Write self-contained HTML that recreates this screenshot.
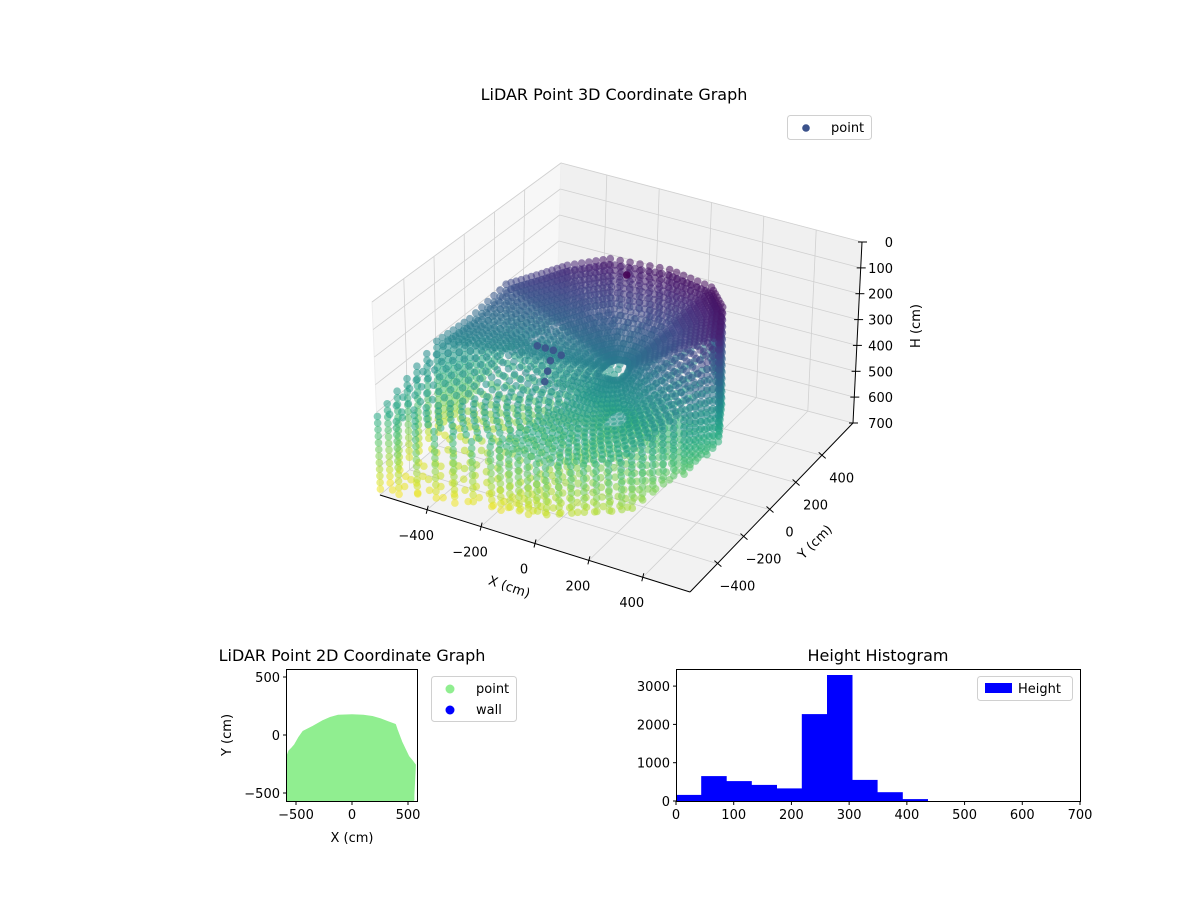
<!DOCTYPE html>
<html><head><meta charset="utf-8"><style>
body{margin:0;background:#fff}
svg text{font-family:"DejaVu Sans","Liberation Sans",sans-serif;fill:#000}
</style></head><body>
<svg id="fig" width="1200" height="900" viewBox="0 0 1200 900" xmlns="http://www.w3.org/2000/svg">
<rect width="1200" height="900" fill="#fff"/>
<g id="g3d"></g>
<g id="g2d"></g>
<g id="ghist"></g>
</svg>
<script>
// ===== 3D data =====
const xTicks3 = [-400, -200, 0, 200, 400];
const yTicks3 = [-400, -200, 0, 200, 400];
const hTicks3 = [0, 100, 200, 300, 400, 500, 600, 700];
const rimX = [-578, -210, 0, 230, 370, 430, 370, 280, 101, -122, -256, -345, -435, -509, -578];
const rimY = [-600, -510, -520, -420, -235, -100, 40, 130, 170, 170, 121, 72, 28, -86, -187];
const rimHTop = [420, 460, 470, 430, 300, 60, 30, 20, 20, 40, 80, 120, 160, 260, 320];
const rimHBot = [700, 690, 650, 620, 520, 460, 400, 300, 220, 220, 280, 350, 420, 560, 660];
const centerH = 300;
const ringFractions = [0.1,0.15,0.2,0.25,0.3,0.35,0.4,0.45,0.5,0.55,0.6,0.65,0.7,0.75,0.8,0.85,0.9,0.95];
const markX = [-330, -300, -270, -240, -270, -270, -270, 0];
const markY = [50, 50, 50, 50, 30, 10, -10, 60];
const markH = [370, 370, 370, 380, 400, 430, 460, 20];
// ===== 2D data =====
const outlineX = [-578, -578, -560, -530, -509, -470, -435, -345, -256, -190, -122, 0, 101, 180, 250, 320, 384, 399, 440, 503, 540, 562, 548, 548];
const outlineY = [-560, -187, -140, -110, -86, -20, 28, 72, 121, 148, 166, 170, 166, 155, 136, 110, 88, 45, -60, -187, -230, -259, -517, -560];
const ticks2dX = [-500, 0, 500];
const ticks2dY = [-500, 0, 500];
// ===== Histogram data =====
const binEdges = [0, 43.6, 87.2, 130.8, 174.4, 218, 261.6, 305.2, 348.8, 392.4, 436];
const binCounts = [160, 650, 520, 420, 330, 2270, 3290, 550, 230, 50];
const histXTicks = [0, 100, 200, 300, 400, 500, 600, 700];
const histYTicks = [0, 1000, 2000, 3000];

const NS = "http://www.w3.org/2000/svg";
function mk(parent, tag, attrs, text){
  const e = document.createElementNS(NS, tag);
  for (const k in attrs) e.setAttribute(k, attrs[k]);
  if (text !== undefined) e.textContent = text;
  parent.appendChild(e);
  return e;
}

// ---------- 3D ----------
const g3 = document.getElementById('g3d');
const XR = [-575, 575], YR = [-610, 640], HMAX = 700;
const A=[380,495], B=[690,592], C=[853,423], D=[556,345];
const At=[372,302], Bt=[686,392], Ct=[862,242], Dt=[561,163];
function bil(p00,p10,p11,p01,u,v){
  return [ (1-u)*(1-v)*p00[0]+u*(1-v)*p10[0]+u*v*p11[0]+(1-u)*v*p01[0],
           (1-u)*(1-v)*p00[1]+u*(1-v)*p10[1]+u*v*p11[1]+(1-u)*v*p01[1] ];
}
function proj(x,y,h){
  const u=(x-XR[0])/(XR[1]-XR[0]), v=(y-YR[0])/(YR[1]-YR[0]), s=h/HMAX;
  const f=bil(A,B,C,D,u,v), t=bil(At,Bt,Ct,Dt,u,v);
  return [t[0]+(f[0]-t[0])*s, t[1]+(f[1]-t[1])*s];
}
function poly(pts){ return pts.map(p=>p[0].toFixed(1)+','+p[1].toFixed(1)).join(' '); }

let e;
e = mk(g3,'polygon',{points:poly([proj(XR[0],YR[0],700),proj(XR[1],YR[0],700),proj(XR[1],YR[1],700),proj(XR[0],YR[1],700)]),fill:'#f2f2f2',stroke:'#f2f2f2'});
 
e = mk(g3,'polygon',{points:poly([proj(XR[0],YR[0],0),proj(XR[0],YR[1],0),proj(XR[0],YR[1],700),proj(XR[0],YR[0],700)]),fill:'#f7f7f7',stroke:'#eeeeee'});
 
e = mk(g3,'polygon',{points:poly([proj(XR[0],YR[1],0),proj(XR[1],YR[1],0),proj(XR[1],YR[1],700),proj(XR[0],YR[1],700)]),fill:'#f0f0f0',stroke:'#eeeeee'});
 

const grid = mk(g3,'g',{stroke:'#d0d0d0','stroke-width':0.8,fill:'none'});
 
function ln(g,p,q){ return mk(g,'line',{x1:p[0].toFixed(1),y1:p[1].toFixed(1),x2:q[0].toFixed(1),y2:q[1].toFixed(1)}); }
xTicks3.forEach(x=>{ ln(grid,proj(x,YR[0],700),proj(x,YR[1],700)); ln(grid,proj(x,YR[1],700),proj(x,YR[1],0)); });
yTicks3.forEach(y=>{ ln(grid,proj(XR[0],y,700),proj(XR[1],y,700)); ln(grid,proj(XR[0],y,700),proj(XR[0],y,0)); });
hTicks3.forEach(h=>{ ln(grid,proj(XR[0],YR[0],h),proj(XR[0],YR[1],h)); ln(grid,proj(XR[0],YR[1],h),proj(XR[1],YR[1],h)); });

const ax = mk(g3,'g',{stroke:'#000','stroke-width':1});
 
ln(ax,proj(XR[0],YR[0],700),proj(XR[1],YR[0],700));
ln(ax,proj(XR[1],YR[0],700),proj(XR[1],YR[1],700));
ln(ax,proj(XR[1],YR[1],700),proj(XR[1],YR[1],0));
xTicks3.forEach(x=>{
  const p=proj(x,YR[0],700); ln(ax,[p[0]+1,p[1]-4],[p[0]-1,p[1]+4]);
  const t=mk(g3,'text',{x:(p[0]-11).toFixed(1),y:(p[1]+30).toFixed(1),'font-size':13,'text-anchor':'middle'}, x<0?'\u2212'+(-x):''+x);
   
});
yTicks3.forEach(y=>{
  const p=proj(XR[1],y,700); ln(ax,[p[0]-3,p[1]-3],[p[0]+4,p[1]+3]);
  const t=mk(g3,'text',{x:(p[0]+20).toFixed(1),y:(p[1]+27).toFixed(1),'font-size':13,'text-anchor':'middle'}, y<0?'\u2212'+(-y):''+y);
   
});
hTicks3.forEach(h=>{
  const p=proj(XR[1],YR[1],h); ln(ax,[p[0]-4,p[1]],[p[0]+5,p[1]]);
  const t=mk(g3,'text',{x:893,y:(p[1]+5).toFixed(1),'font-size':13,'text-anchor':'end'}, ''+h);
   
});

const vir=['#440154','#482475','#414487','#355f8d','#2a788e','#21918c','#22a884','#44bf70','#7ad151','#bddf26','#fde725'];
function hex(c){return [parseInt(c.slice(1,3),16),parseInt(c.slice(3,5),16),parseInt(c.slice(5,7),16)];}
function viridis(t){
  t=Math.max(0,Math.min(1,t)); const f=t*10, i=Math.min(9,Math.floor(f)), r=f-i;
  const a=hex(vir[i]), b=hex(vir[i+1]);
  return 'rgb('+a.map((v,k)=>Math.round(v+(b[k]-v)*r)).join(',')+')';
}

const pts=[];
const n=rimX.length;
const CX=50, CY=-80;
function rimAt(param){
  const i=Math.floor(param)%n, j=(i+1)%n, r=param-Math.floor(param);
  return {x:rimX[i]+(rimX[j]-rimX[i])*r, y:rimY[i]+(rimY[j]-rimY[i])*r,
          ht:rimHTop[i]+(rimHTop[j]-rimHTop[i])*r, hb:rimHBot[i]+(rimHBot[j]-rimHBot[i])*r};
}
for(let k=0;k<n*6;k++){
  const r=rimAt(k/6);
  for(let h=r.ht; h<=r.hb; h+=24) pts.push([r.x,r.y,h]);
}
ringFractions.forEach(s=>{
  const m=Math.round(40+s*90);
  for(let k=0;k<m;k++){
    const r=rimAt(k*n/m);
    const x=CX+(r.x-CX)*s, y=CY+(r.y-CY)*s;
    const h=centerH+(r.ht-centerH)*s;
    pts.push([x,y,h]);
    if (k%2===0) pts.push([x,y,480+(r.hb-480)*s]);
  }
});
pts.sort((a,b)=>(b[1]*0.87-b[0]*0.5)-(a[1]*0.87-a[0]*0.5));
const gp=mk(g3,'g',{});
 
pts.forEach(p=>{
  const q=proj(p[0],p[1],p[2]);
  const c=mk(gp,'circle',{cx:q[0].toFixed(1),cy:q[1].toFixed(1),r:3.8,fill:viridis(p[2]/700),'fill-opacity':0.55});
  
  
});
markX.forEach((x,i)=>{
  const q=proj(x,markY[i],markH[i]);
  const c=mk(gp,'circle',{cx:q[0].toFixed(1),cy:q[1].toFixed(1),r:3.8,fill:i==markX.length-1?'#440154':'#3b528b','fill-opacity':0.9});
  
  
});

e=mk(g3,'text',{x:614,y:100,'font-size':16,'text-anchor':'middle'},'LiDAR Point 3D Coordinate Graph');
 
e=mk(g3,'text',{x:0,y:0,'font-size':13,'text-anchor':'middle',transform:'translate(508,591) rotate(19)'},'X (cm)');
 
e=mk(g3,'text',{x:0,y:0,'font-size':13,'text-anchor':'middle',transform:'translate(818,545) rotate(-45)'},'Y (cm)');
 
e=mk(g3,'text',{x:0,y:0,'font-size':13,'text-anchor':'middle',transform:'translate(920,326) rotate(-90)'},'H (cm)');
 
const lg3=mk(g3,'g',{});
 
mk(lg3,'rect',{x:787.5,y:115.5,width:84,height:24,rx:3,fill:'#fff',stroke:'#d0d0d0'});
mk(lg3,'circle',{cx:806,cy:128,r:3.8,fill:'#3b528b'});
mk(lg3,'text',{x:831,y:132,'font-size':13},'point');

// ---------- 2D ----------
const g2=document.getElementById('g2d');
const sx2=v=>352+v*0.112, sy2=v=>735-v*0.116;
e=mk(g2,'polygon',{points:outlineX.map((x,i)=>sx2(x).toFixed(1)+','+sy2(outlineY[i]).toFixed(1)).join(' '),fill:'#90ee90',stroke:'#90ee90','stroke-width':2,'stroke-linejoin':'round'});
 
e=mk(g2,'rect',{x:286.5,y:669.5,width:131,height:132,fill:'none',stroke:'#000','stroke-width':1});
 
ticks2dX.forEach(v=>{
  const x=sx2(v); mk(g2,'line',{x1:x,y1:801.5,x2:x,y2:805,stroke:'#000'});
  const t=mk(g2,'text',{x:x,y:819,'font-size':13,'text-anchor':'middle'},v<0?'\u2212'+(-v):''+v);
   
});
ticks2dY.forEach(v=>{
  const y=sy2(v); mk(g2,'line',{x1:283,y1:y,x2:286.5,y2:y,stroke:'#000'});
  const t=mk(g2,'text',{x:280,y:y+5,'font-size':13,'text-anchor':'end'},v<0?'\u2212'+(-v):''+v);
   
});
e=mk(g2,'text',{x:352,y:661,'font-size':16,'text-anchor':'middle'},'LiDAR Point 2D Coordinate Graph');
 
e=mk(g2,'text',{x:352,y:842,'font-size':13,'text-anchor':'middle'},'X (cm)');
 
e=mk(g2,'text',{x:0,y:0,'font-size':13,'text-anchor':'middle',transform:'translate(231,735) rotate(-90)'},'Y (cm)');
 
const lg2=mk(g2,'g',{});
 
mk(lg2,'rect',{x:431.5,y:676.5,width:85,height:45,rx:3,fill:'#fff',stroke:'#d0d0d0'});
mk(lg2,'circle',{cx:450,cy:689,r:4.5,fill:'#90ee90'});
mk(lg2,'text',{x:476,y:693,'font-size':13},'point');
mk(lg2,'circle',{cx:450,cy:710,r:4.5,fill:'#0000ff'});
mk(lg2,'text',{x:476,y:714,'font-size':13},'wall');

// ---------- Histogram ----------
const gh=document.getElementById('ghist');
const hx=v=>676+v*404/700, hy=c=>801-c*0.0383;
binCounts.forEach((c,i)=>{
  const x0=hx(binEdges[i]), x1=hx(binEdges[i+1]);
  const r=mk(gh,'rect',{x:x0.toFixed(1),y:hy(c).toFixed(1),width:(x1-x0+0.3).toFixed(1),height:(801-hy(c)).toFixed(1),fill:'#0000ff'});
  
  
});
e=mk(gh,'rect',{x:676.5,y:669.5,width:404,height:132,fill:'none',stroke:'#000'});
 
histXTicks.forEach(v=>{
  const x=hx(v); mk(gh,'line',{x1:x,y1:801.5,x2:x,y2:805,stroke:'#000'});
  const t=mk(gh,'text',{x:x,y:819,'font-size':13,'text-anchor':'middle'},''+v);
   
});
histYTicks.forEach(v=>{
  const y=hy(v); mk(gh,'line',{x1:673,y1:y,x2:676.5,y2:y,stroke:'#000'});
  const t=mk(gh,'text',{x:670,y:y+5,'font-size':13,'text-anchor':'end'},''+v);
   
});
e=mk(gh,'text',{x:878,y:661,'font-size':16,'text-anchor':'middle'},'Height Histogram');
 
const lgh=mk(gh,'g',{});
 
mk(lgh,'rect',{x:977.5,y:676.5,width:95,height:24,rx:3,fill:'#fff',stroke:'#d0d0d0'});
mk(lgh,'rect',{x:985,y:683,width:27,height:10,fill:'#0000ff'});
mk(lgh,'text',{x:1018,y:693,'font-size':13},'Height');
</script>
</body></html>
